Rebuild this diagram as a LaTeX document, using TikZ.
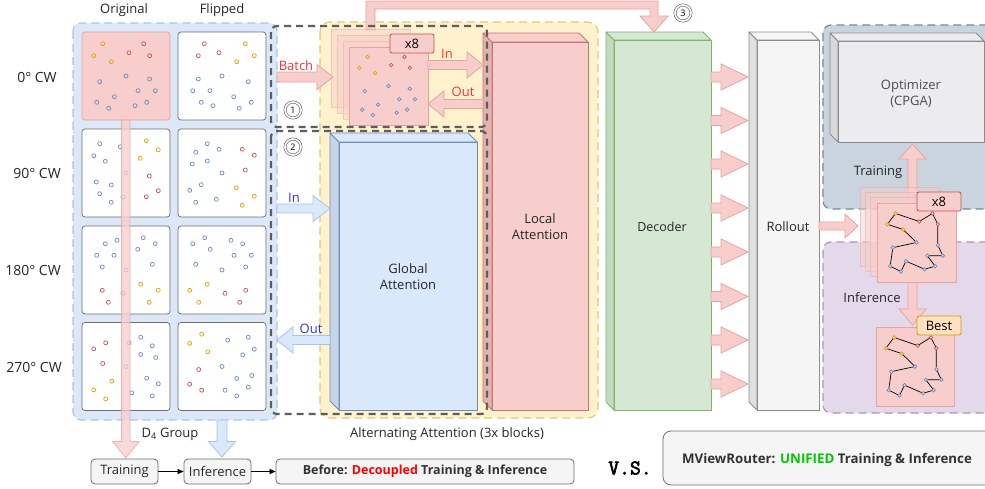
\documentclass[tikz,border=0pt]{standalone}
\usepackage{fontspec}
\setmainfont{Open Sans}
\newfontfamily\vsfont[AutoFakeBold=3]{Latin Modern Mono}
\usetikzlibrary{arrows.meta}
\definecolor{pinkF}{HTML}{F8CECC}
\definecolor{pinkA}{HTML}{E8A3A0}
\definecolor{pinkD}{HTML}{B85450}
\definecolor{pinkS}{HTML}{E3B3AF}
\definecolor{blueF}{HTML}{DAE8FC}
\definecolor{blueA}{HTML}{A9C4EB}
\definecolor{blueD}{HTML}{6C8EBF}
\definecolor{blueS}{HTML}{C7D5E7}
\definecolor{contB}{HTML}{DCE8F8}
\definecolor{yelF}{HTML}{FFF2CC}
\definecolor{yelD}{HTML}{E3C878}
\definecolor{greF}{HTML}{D5E8D4}
\definecolor{greS}{HTML}{C4DAC2}
\definecolor{greD}{HTML}{82B366}
\definecolor{gryF}{HTML}{F5F5F5}
\definecolor{gryS}{HTML}{E0E0E0}
\definecolor{gryD}{HTML}{8C8C8C}
\definecolor{optF}{HTML}{ECECEE}
\definecolor{optS}{HTML}{D9D9DB}
\definecolor{trnF}{HTML}{C9D4DE}
\definecolor{trnD}{HTML}{7089A0}
\definecolor{purF}{HTML}{E4D9EA}
\definecolor{purD}{HTML}{AC93BC}
\definecolor{cellD}{HTML}{6E6E6E}
\definecolor{dashG}{HTML}{5E5E5E}
\definecolor{dotY}{HTML}{E3A400}
\definecolor{dotR}{HTML}{BE5A56}
\definecolor{dotB}{HTML}{6C8EBF}
\definecolor{txtR}{HTML}{FF3333}
\definecolor{txtB}{HTML}{3333FF}
\definecolor{bestF}{HTML}{FFE1BF}
\definecolor{bestD}{HTML}{D79B00}
\definecolor{grnT}{HTML}{00C800}
\tikzset{
  cell/.style={draw=cellD, fill=white, rounded corners=3pt, line width=0.7pt, minimum width=88pt, minimum height=88pt, inner sep=0pt},
  ydot/.style={draw=dotY, line width=0.7pt},
  rdot/.style={draw=dotR, line width=0.7pt},
  bdot/.style={draw=dotB, line width=0.7pt},
  parrow/.style={fill=pinkF, draw=pinkA, line width=0.8pt},
  barrow/.style={fill=blueF, draw=blueA, line width=0.8pt},
  lbl/.style={font=\fontsize{13}{16}\selectfont, inner sep=0pt, text=black!85},
  dbox/.style={draw=dashG, line width=2.2pt, dash pattern=on 7pt off 5pt, rounded corners=6pt},
  card/.style={fill=pinkF, draw=pinkA, line width=0.8pt},
  bcard/.style={fill=pinkF, draw=pinkA, line width=0.8pt, opacity=0.45},
  tag/.style={fill=pinkF, draw=pinkD, line width=0.8pt, rounded corners=2pt, minimum width=44pt, minimum height=19pt, inner sep=0pt, font=\fontsize{13}{14}\selectfont},
  num/.style={circle, draw=dashG, line width=0.6pt, double=white, double distance=1.6pt, fill=white, minimum size=16pt, inner sep=0pt, font=\fontsize{9}{9}\selectfont},
  bbox/.style={fill=gryF, draw=cellD, line width=0.8pt, rounded corners=4pt, inner sep=0pt},
}
\newcommand\mydots{%
  \foreach \p in {(-23.3,-32.3),(-32.3,-20.3),(-14.7,-14.3)} \draw[ydot] \p circle (2);
  \foreach \p in {(17.7,-32.3),(3,-23.3),(23.7,-20.3)} \draw[rdot] \p circle (2);
  \foreach \p in {(-26.3,5.7),(0,0),(23.7,3),(12,14.7),(29.3,14.7),(-11.7,20.7),(-29.3,26.3),(-17.3,32.3),(9,29.7),(20.7,26.3)} \draw[bdot] \p circle (2);
}
\newcommand\mytour{%
  \draw[black, line width=0.7pt, line join=round] (-23.3,-32.3) -- (3,-23.3) -- (17.7,-32.3) -- (23.7,-20.3) -- (23.7,3) -- (29.3,14.7) -- (12,14.7) -- (20.7,26.3) -- (9,29.7) -- (-11.7,20.7) -- (-17.3,32.3) -- (-29.3,26.3) -- (-26.3,5.7) -- (0,0) -- (-14.7,-14.3) -- (-32.3,-20.3) -- cycle;
  \foreach \p in {(-23.3,-32.3),(-32.3,-20.3),(-14.7,-14.3)} \filldraw[ydot, fill=pinkF] \p circle (2);
  \foreach \p in {(17.7,-32.3),(3,-23.3),(23.7,-20.3)} \filldraw[rdot, fill=pinkF] \p circle (2);
  \foreach \p in {(-26.3,5.7),(0,0),(23.7,3),(12,14.7),(29.3,14.7),(-11.7,20.7),(-29.3,26.3),(-17.3,32.3),(9,29.7),(20.7,26.3)} \filldraw[bdot, fill=pinkF] \p circle (2);
}
% #1 style #2 xa #3 xb #4 y #5 s #6 h #7 L
\newcommand\arrR[7]{\draw[#1] (#2,{#4-#5}) -- ({#3-#7},{#4-#5}) -- ({#3-#7},{#4-#6}) -- (#3,#4) -- ({#3-#7},{#4+#6}) -- ({#3-#7},{#4+#5}) -- (#2,{#4+#5}) -- cycle;}
\newcommand\arrL[7]{\draw[#1] (#2,{#4-#5}) -- ({#3+#7},{#4-#5}) -- ({#3+#7},{#4-#6}) -- (#3,#4) -- ({#3+#7},{#4+#6}) -- ({#3+#7},{#4+#5}) -- (#2,{#4+#5}) -- cycle;}
% #1 style #2 x #3 ya #4 yb #5 s #6 h #7 L
\newcommand\arrD[7]{\draw[#1] ({#2-#5},#3) -- ({#2-#5},{#4-#7}) -- ({#2-#6},{#4-#7}) -- (#2,#4) -- ({#2+#6},{#4-#7}) -- ({#2+#5},{#4-#7}) -- ({#2+#5},#3) -- cycle;}
\newcommand\arrU[7]{\draw[#1] ({#2-#5},#3) -- ({#2-#5},{#4+#7}) -- ({#2-#6},{#4+#7}) -- (#2,#4) -- ({#2+#6},{#4+#7}) -- ({#2+#5},{#4+#7}) -- ({#2+#5},#3) -- cycle;}
% #1 x1 #2 y1 #3 x2 #4 y2 #5 d #6 front #7 side #8 stroke
\newcommand\mycube[8]{%
  \filldraw[fill=#7, draw=#8, line width=0.8pt, line join=round] (#1,#2) -- ({#1+#5},{#2+#5}) -- ({#1+#5},#4) -- (#1,{#4-#5}) -- cycle;
  \filldraw[fill=#6, draw=#8, line width=0.8pt, line join=round] (#1,#2) -- ({#3-#5},#2) -- (#3,{#2+#5}) -- ({#1+#5},{#2+#5}) -- cycle;
  \filldraw[fill=#6, draw=#8, line width=0.8pt] ({#1+#5},{#2+#5}) rectangle (#3,#4);
}
\begin{document}
\begin{tikzpicture}[x=1pt, y=-1pt]
\clip (0,0) rectangle (985,488);
\fill[white] (0,0) rectangle (985,488);

% containers
\filldraw[fill=contB, draw=blueA, line width=1.2pt, dash pattern=on 8pt off 5pt, rounded corners=8pt] (73,23) rectangle (277,420);
\filldraw[fill=yelF, draw=yelD, line width=1.2pt, dash pattern=on 8pt off 5pt, rounded corners=10pt] (320,22) rectangle (598,418);
\filldraw[fill=trnF, draw=trnD, line width=1.2pt, dash pattern=on 8pt off 5pt, rounded corners=8pt] (823,25) rectangle (1010,209);
\filldraw[fill=purF, draw=purD, line width=1.2pt, dash pattern=on 8pt off 5pt, rounded corners=8pt] (823,242) rectangle (1010,413);

% cells
\node[cell, fill=pinkF, draw=pinkA] (o0) at (126,76) {};
\node[cell] (f0) at (222,76) {};
\node[cell] (o1) at (126,173) {};
\node[cell] (f1) at (222,173) {};
\node[cell] (o2) at (126,270) {};
\node[cell] (f2) at (222,270) {};
\node[cell] (o3) at (126,366.5) {};
\node[cell] (f3) at (222,366.5) {};
\foreach \cy/\ang in {76/0,173/-90,270/-180,366.5/-270} {
  \begin{scope}[shift={(126,\cy)}, rotate=\ang] \mydots \end{scope}
  \begin{scope}[shift={(222,\cy)}, rotate=\ang, xscale=-1] \mydots \end{scope}
}

% top arrow (3)
\filldraw[parrow, line join=miter] (366,30) -- (366,1) -- (658,1) -- (658,16) -- (668,16) -- (654,32) -- (640,16) -- (650,16) -- (650,9) -- (375,9) -- (375,30) -- cycle;

% left card stack
\filldraw[bcard] (331,29) rectangle (410,107);
\filldraw[bcard] (337,35) rectangle (416,113);
\filldraw[bcard] (343,41) rectangle (422,119);
\filldraw[card] (349,47) rectangle (428,125);
\node[inner sep=0pt, minimum size=79pt] (batchcard) at (388.5,86) {};
\begin{scope}[shift={(388.5,86)}, scale=0.9] \mydots \end{scope}
\node[tag] (x8a) at (412,43.5) {x8};

% cubes
\mycube{330}{133}{477}{410}{9}{blueF}{blueS}{blueD}
\node[lbl, align=center] (global) at (408,277) {Global\\Attention};
\mycube{483}{33}{588}{410}{9}{pinkF}{pinkS}{pinkD!80}
\node[lbl, align=center] (local) at (540,227) {Local\\Attention};
\mycube{606}{32}{711}{410}{8}{greF}{greS}{greD}
\node[lbl, font=\fontsize{12.5}{15}\selectfont] (decoder) at (662,227) {Decoder};
\mycube{749}{32}{819}{410}{8}{gryF}{gryS}{gryD}
\node[lbl] (rollout) at (788,227) {Rollout};
\mycube{830}{33}{984}{142}{8}{optF}{optS}{gryD}
\node[lbl, align=center, text=black!70] (optim) at (911,94) {Optimizer\\(CPGA)};

% arrows in the middle
\arrR{parrow}{277}{333}{77}{5}{12.5}{16}
\arrR{parrow}{428}{483}{65}{4.5}{13}{16}
\arrL{parrow}{483}{428}{104}{4.5}{13}{16}
\arrR{barrow}{277}{330}{208.5}{4.5}{13}{17}
\arrL{barrow}{330}{277}{340}{4.5}{13}{16}
\foreach \yy in {77,120.5,164,208,252,296.5,340,384} {\arrR{parrow}{711}{748}{\yy}{5}{13}{27}}
\arrR{parrow}{819}{858}{226}{4}{12}{13}
\arrU{parrow}{912.5}{196}{144}{4.5}{13.5}{15}
\arrD{parrow}{912.5}{282}{325}{4.5}{13.5}{16}

% right card stack
\filldraw[bcard] (860,187) rectangle (939,266);
\filldraw[bcard] (865,192) rectangle (944,271);
\filldraw[bcard] (870,197) rectangle (949,276);
\filldraw[card] (877,203) rectangle (956,282);
\node[inner sep=0pt, minimum size=79pt] (solcard) at (916.5,242.5) {};
\begin{scope}[shift={(916.5,242.5)}, scale=0.9] \mytour \end{scope}
\node[tag] (x8b) at (939,201.5) {x8};
\filldraw[card] (876,327) rectangle (954,406);
\node[inner sep=0pt, minimum size=78pt] (bestcard) at (915,366.5) {};
\begin{scope}[shift={(915,366.5)}, scale=0.9] \mytour \end{scope}
\node[tag, fill=bestF, draw=bestD] (best) at (939,325.5) {Best};

% dashed boxes
\draw[dbox] (271,26) rectangle (487,127);
\draw[dbox] (271,131) rectangle (487,414);
\node[num] (n1) at (293,110) {1};
\node[num] (n2) at (293,147) {2};
\node[num] (n3) at (683,13) {3};

% big vertical arrows
\arrD{parrow, opacity=0.75}{125.8}{120}{458}{4.2}{13.3}{16.5}
\arrD{barrow}{222}{420}{457}{5}{13.5}{15.5}

% labels
\node[lbl] (t-orig) at (124,10) {Original};
\node[lbl] (t-flip) at (222,10) {Flipped};
\node[lbl, font=\fontsize{14}{16}\selectfont] (t-r0) at (37,77) {0° CW};
\node[lbl, font=\fontsize{14}{16}\selectfont] (t-r1) at (37,173) {90° CW};
\node[lbl, font=\fontsize{14}{16}\selectfont] (t-r2) at (33,270) {180° CW};
\node[lbl, font=\fontsize{14}{16}\selectfont] (t-r3) at (34,367) {270° CW};
\node[lbl, text=txtR] (t-batch) at (296,66) {Batch};
\node[lbl, text=txtR] (t-in1) at (447,54) {In};
\node[lbl, text=txtR] (t-out1) at (463,92) {Out};
\node[lbl, text=txtB] (t-in2) at (294,198) {In};
\node[lbl, text=txtB] (t-out2) at (311,329) {Out};
\node[lbl] (t-train) at (878,172) {Training};
\node[lbl] (t-inf) at (872,298) {Inference};
\node[lbl] (t-d4) at (170,434) {D\textsubscript{4} Group};
\node[lbl] (t-alt) at (447,434) {Alternating Attention (3x blocks)};

% bottom boxes
\node[bbox, minimum width=67pt, minimum height=25pt, lbl] (b-train) at (124.5,471.5) {Training};
\node[bbox, minimum width=67pt, minimum height=25pt, lbl] (b-inf) at (217.5,471.5) {Inference};
\node[bbox, minimum width=298pt, minimum height=25pt, font=\fontsize{12.5}{14}\selectfont\bfseries, text=black!80] (b-before) at (425,471.5) {Before: \textcolor{red}{Decoupled} Training \& Inference};
\draw[-{Triangle[length=6pt,width=5pt]}, line width=0.7pt] (b-train) -- (b-inf);
\draw[-{Triangle[length=6pt,width=5pt]}, line width=0.7pt] (b-inf) -- (b-before);
\node[font=\vsfont\bfseries\fontsize{21}{22}\selectfont, inner sep=0pt] (vs) at (630,468) {V.S.};
\filldraw[fill=gryF, draw=cellD, line width=0.8pt, rounded corners=8pt] (663,431) rectangle (1010,485);
\node[font=\fontsize{13.3}{15}\selectfont\bfseries, text=black!80, inner sep=0pt] (unified) at (827,460) {MViewRouter: \textcolor{grnT}{UNIFIED} Training \& Inference};
\end{tikzpicture}
\end{document}
